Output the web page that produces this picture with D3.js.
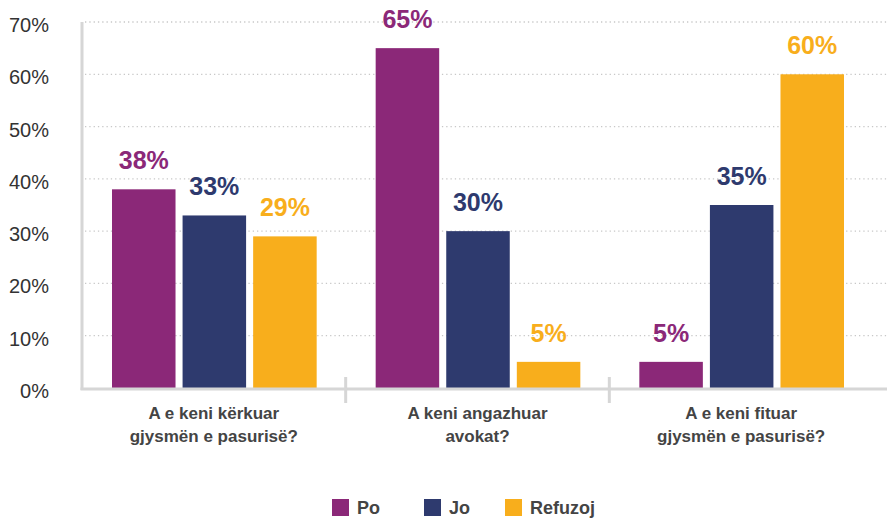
<!DOCTYPE html>
<html>
<head>
<meta charset="utf-8">
<script src="https://cdn.jsdelivr.net/npm/d3@7"></script>
<style>
    body { margin: 0; background: #fff; }
    text { font-family: "Liberation Sans", Arial, sans-serif; }
</style>
</head>
<body>
<div id="chart"></div>
<script>
// data
var categories = [
    ["A e keni kërkuar", "gjysmën e pasurisë?"],
    ["A keni angazhuar", "avokat?"],
    ["A e keni fituar", "gjysmën e pasurisë?"]
];
var seriesNames = ["Po", "Jo", "Refuzoj"];
var po = [38, 65, 5];
var jo = [33, 30, 35];
var refuzoj = [29, 5, 60];
var yTicks = [0, 10, 20, 30, 40, 50, 60, 70];

var colors = ["#8b2878", "#2e3a6e", "#f8ae1c"];

var width = 887,
    height = 520;
var margin = {
    left: 82,
    right: 14,
    top: 22,
    bottom: 132
};

var svg = d3.select("#chart")
    .append("svg")
    .attr("width", width)
    .attr("height", height);

var values = [po, jo, refuzoj];
var catKeys = categories.map(function(c) { return c.join(" "); });

var x0 = d3.scaleBand()
    .domain(catKeys)
    .range([margin.left, width - margin.right]);

var x1 = d3.scaleBand()
    .domain(seriesNames)
    .range([30, x0.bandwidth() - 29])
    .paddingInner(0.1);

var y = d3.scaleLinear()
    .domain([0, 70])
    .range([height - margin.bottom, margin.top]);

var color = d3.scaleOrdinal().domain(seriesNames).range(colors);

// dotted gridlines
svg.append("g")
    .selectAll("line")
    .data(yTicks.slice(1))
    .enter()
    .append("line")
    .attr("x1", margin.left + 3)
    .attr("x2", width)
    .attr("y1", function(d) { return y(d); })
    .attr("y2", function(d) { return y(d); })
    .attr("stroke", "#c8c8c8")
    .attr("stroke-width", 1.3)
    .attr("stroke-dasharray", "1.3,3");

// y labels
svg.append("g")
    .selectAll("text")
    .data(yTicks)
    .enter()
    .append("text")
    .attr("x", 49)
    .attr("y", function(d) { return y(d) + 10; })
    .attr("text-anchor", "end")
    .attr("font-size", 20)
    .attr("fill", "#333")
    .text(function(d) { return d + "%"; });

// bars
var group = svg.selectAll(".grp")
    .data(catKeys)
    .enter()
    .append("g")
    .attr("class", "grp")
    .attr("transform", function(d) { return "translate(" + x0(d) + ",0)"; });

group.selectAll("rect")
    .data(function(d, i) {
        return seriesNames.map(function(s, j) { return {key: s, value: values[j][i]}; });
    })
    .enter()
    .append("rect")
    .attr("x", function(d) { return x1(d.key); })
    .attr("y", function(d) { return y(d.value); })
    .attr("width", x1.bandwidth())
    .attr("height", function(d) { return y(0) - y(d.value); })
    .attr("fill", function(d) { return color(d.key); });

group.selectAll(".val")
    .data(function(d, i) {
        return seriesNames.map(function(s, j) { return {key: s, value: values[j][i]}; });
    })
    .enter()
    .append("text")
    .attr("class", "val")
    .attr("x", function(d) { return x1(d.key) + x1.bandwidth() / 2; })
    .attr("y", function(d) { return y(d.value) - 20; })
    .attr("text-anchor", "middle")
    .attr("font-size", 25)
    .attr("font-weight", "bold")
    .attr("fill", function(d) { return color(d.key); })
    .text(function(d) { return d.value + "%"; });

// axes lines
svg.append("line")
    .attr("x1", margin.left)
    .attr("x2", margin.left)
    .attr("y1", margin.top)
    .attr("y2", y(0) + 2)
    .attr("stroke", "#d6d6d6")
    .attr("stroke-width", 3);

svg.append("line")
    .attr("x1", margin.left - 1.5)
    .attr("x2", width)
    .attr("y1", y(0) + 1)
    .attr("y2", y(0) + 1)
    .attr("stroke", "#d6d6d6")
    .attr("stroke-width", 3);

svg.append("g")
    .selectAll("line")
    .data(catKeys.slice(1))
    .enter()
    .append("line")
    .attr("x1", function(d) { return x0(d); })
    .attr("x2", function(d) { return x0(d); })
    .attr("y1", y(0) - 11)
    .attr("y2", y(0) + 15)
    .attr("stroke", "#d6d6d6")
    .attr("stroke-width", 3);

// category labels
var catLabel = svg.append("g")
    .selectAll("text")
    .data(categories)
    .enter()
    .append("text")
    .attr("text-anchor", "middle")
    .attr("font-size", 17)
    .attr("font-weight", "bold")
    .attr("fill", "#444");

catLabel.selectAll("tspan")
    .data(function(d, i) { return d.map(function(t) { return {t: t, i: i}; }); })
    .enter()
    .append("tspan")
    .attr("x", function(d) { return x0(catKeys[d.i]) + x0.bandwidth() / 2; })
    .attr("y", function(d, k) { return 419 + k * 23; })
    .text(function(d) { return d.t; });

// legend
var legendX = [332, 424, 505];
var legend = svg.append("g")
    .selectAll("g")
    .data(seriesNames)
    .enter()
    .append("g")
    .attr("transform", function(d, i) { return "translate(" + legendX[i] + ",499)"; });

legend.append("rect")
    .attr("width", 17)
    .attr("height", 17)
    .attr("fill", function(d) { return color(d); });

legend.append("text")
    .attr("x", 25)
    .attr("y", 15)
    .attr("font-size", 18)
    .attr("font-weight", "bold")
    .attr("fill", "#444")
    .text(function(d) { return d; });
</script>
</body>
</html>
